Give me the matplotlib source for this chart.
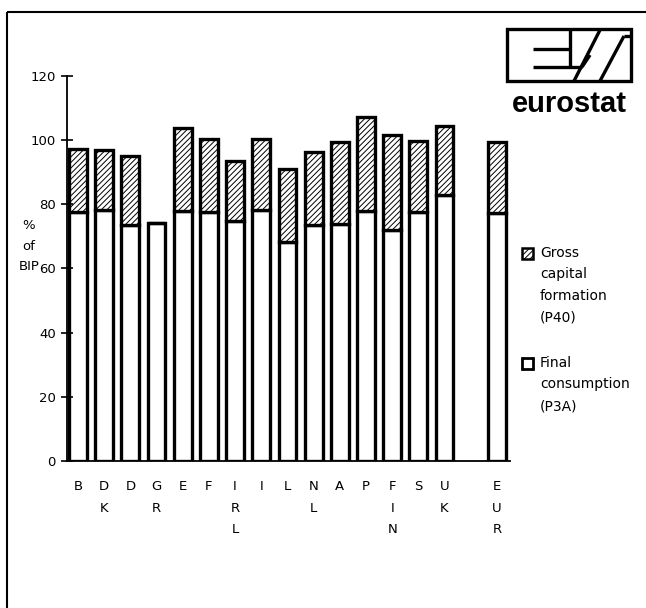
import matplotlib
matplotlib.use("Agg")
import matplotlib.pyplot as plt
from matplotlib.lines import Line2D
from matplotlib.patches import Rectangle

plt.rcParams['font.family'] = ['DejaVu Sans']
plt.rcParams['hatch.linewidth'] = 0.7

# data
countries = ["B", "DK", "D", "GR", "E", "F", "IRL", "I", "L", "NL", "A", "P", "FIN", "S", "UK", "EUR"]
final_consumption = [77.6, 78.2, 73.7, 74.1, 77.9, 77.6, 74.9, 78.3, 68.3, 73.7, 74.0, 77.9, 71.9, 77.6, 83.0, 77.3]
total = [97.3, 97.0, 95.0, 74.1, 103.7, 100.3, 93.5, 100.5, 91.0, 96.4, 99.3, 107.1, 101.6, 99.8, 104.4, 99.3]
gross_capital = [t - f for t, f in zip(total, final_consumption)]
positions = list(range(15)) + [16]   # gap before EUR
yticks = [0, 20, 40, 60, 80, 100, 120]

fig = plt.figure(figsize=(6.46, 6.08), dpi=100)
ax = fig.add_axes([0.1037, 0.2418, 0.6858, 0.6332])

ax.bar(positions, final_consumption, width=0.68, color="white",
       edgecolor="black", linewidth=2.4)
ax.bar(positions, gross_capital, width=0.68, bottom=final_consumption,
       color="white", edgecolor="black", linewidth=2.4, hatch="//////")

ax.set_xlim(-0.42, 16.5)
ax.set_ylim(0, 120)
ax.set_yticks(yticks)
ax.tick_params(axis="y", direction="inout", length=8, width=1.2, pad=4, labelsize=9.5)
ax.set_xticks(positions)
ax.set_xticklabels(["\n".join(c) for c in countries], fontsize=9.5, linespacing=1.85)
ax.tick_params(axis="x", length=0, pad=14)
for s in ["top", "right"]:
    ax.spines[s].set_visible(False)
ax.spines["left"].set_linewidth(1.3)
ax.spines["bottom"].set_linewidth(1.3)

# y label, squeezed up against the 60 tick label as in the original
fig.text(0.0445, 0.595, "%\nof\nBIP", ha="center", va="center", fontsize=9.5, linespacing=1.75)

# legend drawn by hand
fig.patches.append(Rectangle((0.8080, 0.574), 0.0175, 0.0185, transform=fig.transFigure,
                             facecolor="white", edgecolor="black", linewidth=1.8, hatch="//////"))
fig.text(0.836, 0.596, "Gross\ncapital\nformation\n(P40)", ha="left", va="top",
         fontsize=10, linespacing=1.7)
fig.patches.append(Rectangle((0.8080, 0.393), 0.0175, 0.0185, transform=fig.transFigure,
                             facecolor="white", edgecolor="black", linewidth=2.0))
fig.text(0.836, 0.415, "Final\nconsumption\n(P3A)", ha="left", va="top",
         fontsize=10, linespacing=1.7)

# eurostat logo
W, H = 646.0, 608.0
def fl(x0, y0, x1, y1, lw=2.4):
    fig.add_artist(Line2D([x0 / W, x1 / W], [1 - y0 / H, 1 - y1 / H], color="black", lw=lw,
                          solid_capstyle="butt"))

fig.patches.append(Rectangle((507 / W, 1 - 81 / H), 124 / W, 52 / H, transform=fig.transFigure,
                             facecolor="white", edgecolor="black", linewidth=2.4))
fl(533, 49, 570, 49)
fl(570, 29, 570, 67)
fl(533, 67, 582, 67)
fl(574, 81, 600, 30)
fl(582, 67, 590, 55)
fl(600, 81, 624, 36)
fl(624, 36, 631, 36)
fig.text(569 / W, 1 - 104 / H, "eurostat", ha="center", va="center",
         fontsize=21, fontweight="bold", family=["Liberation Sans", "DejaVu Sans"])

# page border
fl(7, 12, 646, 12, lw=1.5)
fl(7, 12, 7, 608, lw=1.5)

fig.savefig("out.png", dpi=100)
